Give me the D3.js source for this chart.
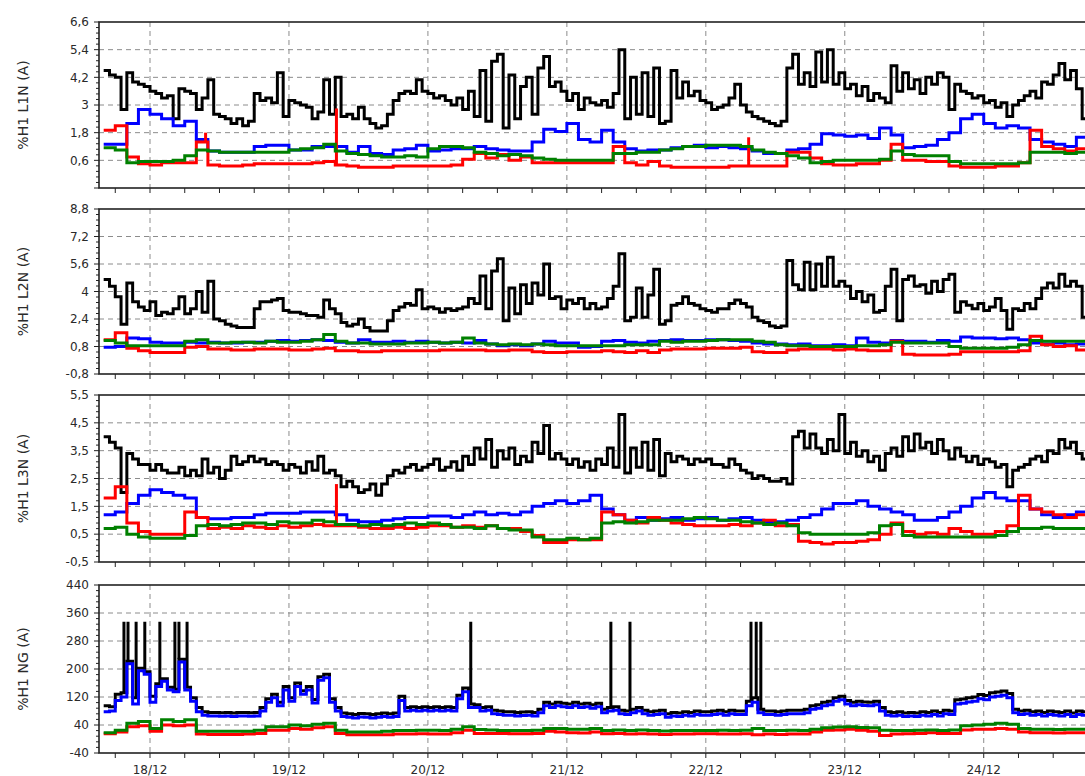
<!DOCTYPE html>
<html>
<head>
<meta charset="utf-8">
<script src="https://cdn.jsdelivr.net/npm/d3@7"></script>
<style>
  body { margin: 0; background: #fff; }
  svg { display: block; font-family: "DejaVu Sans", sans-serif; }
</style>
</head>
<body>
<svg id="chart" width="1085" height="776"></svg>
<script>
"use strict";

// hourly series start at 18/12 - 8h, step 1h ; others step 2h
const startHour = -8;

const p1Black = [4.5,4.3,4.2,2.8,4.4,4.0,3.9,3.8,
  3.6,3.5,3.3,3.4,2.4,3.7,3.6,3.5,2.8,3.3, 4.1,2.6,2.5,2.4,2.2,2.4,2.1,2.3,3.5,3.2,
  3.3,3.1,4.4,2.5,3.2,3.1,3.0,2.9,2.4,2.7, 4.1,2.6,4.2,2.5,2.6,2.4,2.9,2.4,2.2,2.0,
  2.1,2.6,3.2,3.5,3.6,3.5,4.1,3.6,3.5,3.3, 3.4,3.2,3.0,3.3,2.8,3.6,2.5,4.5,2.3,4.9,
  5.2,2.0,4.3,2.4,3.8,4.2,2.6,4.6,5.1,3.8, 4.0,3.6,3.2,3.5,2.8,3.3,3.1,
  3.0,3.2,2.9,3.5,5.4,2.4,4.2,2.6,4.4,2.5, 4.6,2.2,2.3,4.5,3.3,4.0,3.4,3.6,3.2,3.1,
  2.8,2.9,3.0,3.3,3.9,3.0,2.7,2.5,2.4,2.3, 2.2,2.1,2.3,4.6,5.2,3.9,4.4,3.8,5.3,4.0,
  5.4,3.9,4.4,3.7,3.9,3.4,3.8,3.2,3.5,3.3, 3.1,4.7,3.6,4.4,3.7,4.1,3.5,4.2,3.9,4.4,
  4.2,2.8,3.9,3.6,3.5,3.3,3.4,3.1,3.2,2.9, 3.1,2.5,3.0,3.2,3.4,3.6,3.3,4.0,3.9,4.3,
  4.8,4.1,4.5,3.7,2.4,2.4];
const p1Blue = [1.3,1.3,2.2,2.8,2.6,2.4,2.1,2.3,1.5,1.0,0.95,0.95,0.95,1.2,1.25,1.25,1.05,1.05,1.2,1.2,
  1.2,0.95,1.2,0.9,0.85,1.05,1.1,1.25,1.0,1.05,1.1,1.1,1.2,1.1,1.05,1.0,1.0,1.4,1.95,1.85,2.2,1.5,1.4,
  1.9,1.4,1.1,1.0,1.05,1.05,1.15,1.2,1.25,1.15,1.2,1.15,1.1,1.0,0.9,0.9,1.05,1.1,1.3,1.75,1.7,1.65,
  1.7,1.55,2.0,1.7,1.15,1.2,1.25,1.5,1.8,2.4,2.6,2.2,2.0,2.1,2.0,1.5,1.4,1.3,1.2,1.6,1.6];
const p1Red = [1.9,2.1,0.75,0.45,0.4,0.5,0.5,0.5,1.4,0.4,0.35,0.35,0.4,0.45,0.45,0.45,0.45,0.45,0.5,0.55,
  0.4,0.35,0.3,0.3,0.3,0.35,0.35,0.35,0.35,0.35,0.4,0.65,0.9,0.7,0.85,0.6,0.75,0.5,0.5,0.5,0.5,0.5,0.5,
  0.5,1.2,0.5,0.4,0.55,0.35,0.3,0.3,0.3,0.3,0.3,0.35,0.35,0.35,0.35,0.35,0.95,0.95,0.7,0.45,0.4,0.4,
  0.45,0.45,0.6,1.3,0.6,0.6,0.55,0.55,0.35,0.3,0.3,0.3,0.35,0.35,0.5,1.9,1.2,1.1,1.0,1.1,1.1];
const p1Green = [1.15,1.05,0.5,0.55,0.55,0.55,0.6,0.8,1.05,1.0,0.95,0.95,0.95,0.95,0.95,0.95,1.05,1.1,1.15,1.3,
  1.0,0.9,0.85,0.8,0.75,0.75,0.8,0.75,1.1,1.2,1.2,1.15,0.95,0.9,0.8,0.85,0.8,0.7,0.65,0.6,0.6,0.6,0.6,
  0.6,0.9,0.9,0.95,0.95,1.05,1.1,1.2,1.2,1.25,1.25,1.25,1.2,1.05,0.95,0.9,0.8,0.7,0.5,0.55,0.6,0.6,
  0.6,0.6,0.65,1.0,0.85,0.8,0.8,0.8,0.55,0.45,0.45,0.45,0.45,0.45,0.5,0.95,0.95,0.95,0.9,0.95,0.95];
const p1RedSpikeHours = [9.6, 32.2, 103.4];
const p1RedSpikePeak = [1.8, 2.85, 1.6];

const p2Black = [4.7,4.3,3.7,2.1,4.5,3.4,3.1,2.9,
  3.4,2.6,2.8,2.7,3.0,3.7,2.7,3.0,4.0,2.8, 4.6,2.4,2.3,2.1,2.0,1.9,1.9,1.9,3.0,3.4,
  3.4,3.5,3.6,2.9,2.8,2.8,2.7,2.6,2.6,2.5, 3.5,3.0,2.7,2.2,2.0,2.1,2.4,1.9,1.7,1.7,
  1.7,2.3,2.9,3.1,3.3,3.2,4.1,3.0,3.1,3.0, 2.8,3.0,2.9,3.0,3.1,3.6,3.3,4.9,3.0,5.2,
  5.9,2.3,4.2,2.7,4.4,3.3,4.5,3.8,5.6,3.6, 3.7,3.0,3.5,3.3,3.6,3.0,3.3,
  3.0,3.1,3.6,4.3,6.2,2.3,2.5,4.2,2.5,3.8, 5.3,2.1,2.3,3.2,3.3,3.7,3.3,3.2,3.0,2.9,
  2.8,3.0,3.0,3.3,3.5,3.3,3.1,2.5,2.3,2.2, 2.0,1.9,2.0,5.8,4.4,4.1,5.7,4.1,5.6,4.3,
  6.0,4.3,4.6,4.3,3.6,4.0,3.4,3.8,2.8,2.9, 4.3,5.3,2.3,4.7,4.9,4.3,4.4,3.9,4.6,4.0,
  4.7,5.0,2.8,3.4,3.2,3.0,3.3,2.9,3.1,3.6, 2.9,1.8,3.0,2.9,3.3,3.0,3.6,4.2,4.5,4.2,
  5.0,4.3,4.6,4.3,2.5,2.5];
const p2Blue = [0.75,0.8,1.3,1.25,1.05,1.0,1.0,1.05,1.0,1.05,1.0,1.0,1.05,1.05,1.1,1.15,1.1,1.15,1.2,1.15,
  1.05,1.0,1.2,1.05,1.05,1.1,1.05,1.1,1.05,1.0,1.05,1.0,1.15,0.95,0.85,0.9,0.85,0.95,1.1,1.0,1.0,0.75,0.8,
  1.1,1.15,1.05,1.0,1.1,1.15,1.2,1.15,1.15,1.2,1.2,1.15,1.1,1.0,0.95,0.95,0.9,0.95,0.85,0.85,0.9,0.85,
  1.3,1.05,1.0,1.15,1.1,1.1,1.05,1.15,1.1,1.35,1.3,1.3,1.25,1.3,1.2,1.0,0.95,1.0,0.9,0.95,0.95];
const p2Red = [1.2,1.6,0.7,0.55,0.45,0.45,0.45,0.75,0.8,0.65,0.65,0.6,0.6,0.65,0.65,0.65,0.6,0.6,0.65,0.7,
  0.55,0.55,0.5,0.5,0.55,0.55,0.55,0.55,0.55,0.6,0.6,0.6,0.6,0.55,0.55,0.6,0.6,0.5,0.45,0.45,0.5,0.5,0.5,
  0.55,0.5,0.45,0.55,0.45,0.6,0.65,0.65,0.65,0.7,0.7,0.7,0.75,0.5,0.45,0.45,0.6,0.65,0.65,0.65,0.6,0.65,
  0.6,0.55,0.55,1.1,0.35,0.3,0.3,0.3,0.35,0.5,0.5,0.5,0.5,0.5,0.55,1.4,0.9,0.8,0.85,0.6,0.6];
const p2Green = [1.15,1.0,0.85,0.85,0.85,0.85,0.85,1.1,1.2,1.0,1.0,1.05,1.05,1.0,1.1,1.05,1.05,1.1,1.2,1.5,
  1.1,1.0,1.0,0.95,0.95,0.95,1.0,1.0,1.05,1.0,1.05,1.3,1.0,0.95,0.9,0.95,0.9,0.95,0.9,0.85,0.85,0.85,0.85,
  0.85,0.85,0.9,0.9,0.9,1.1,1.05,1.1,1.1,1.15,1.2,1.2,1.2,1.1,1.05,0.9,0.85,0.85,0.8,0.8,0.8,0.8,
  0.85,0.85,0.9,1.05,1.0,1.0,1.0,1.0,0.8,0.7,0.7,0.7,0.7,0.75,0.9,1.15,1.1,1.1,1.1,1.1,1.1];

const p3Black = [4.0,3.8,3.6,2.0,3.4,3.2,3.0,3.0,
  2.8,3.0,2.8,2.7,2.7,2.9,2.6,2.8,2.6,3.2, 2.7,2.9,2.5,2.8,3.3,3.0,3.1,3.3,3.1,3.2,
  3.0,3.1,3.0,2.8,3.0,2.9,2.7,3.1,2.8,3.3, 2.7,2.8,2.6,2.2,2.4,2.2,2.0,2.1,2.3,1.9,
  2.3,2.6,2.8,2.7,2.9,3.0,2.8,2.9,3.0,3.2, 2.8,2.9,3.1,2.8,3.3,3.0,3.6,3.2,3.9,2.9,
  3.5,3.2,3.6,3.0,3.3,3.1,3.8,3.4,4.4,3.2, 3.4,3.2,3.0,3.2,2.9,3.1,2.8,
  3.2,3.0,3.6,2.9,4.8,2.7,3.6,2.9,3.8,2.8, 3.9,2.6,3.4,3.1,3.3,3.2,3.0,3.2,3.1,3.2,
  3.0,3.0,2.9,3.2,3.0,2.8,2.7,2.5,2.6,2.5, 2.4,2.4,2.5,2.3,4.0,4.2,3.6,4.1,3.6,3.4,
  3.9,3.5,4.8,3.4,3.8,3.3,3.5,3.1,3.3,2.8, 3.4,3.6,3.3,4.0,3.5,4.1,3.6,3.8,3.4,3.9,
  3.5,3.2,3.6,3.3,3.1,3.3,3.0,3.2,3.1,2.9, 3.0,2.2,2.8,2.9,3.0,3.2,3.3,3.1,3.5,3.4,
  3.9,3.6,3.8,3.4,3.2,3.2];
const p3Blue = [1.2,1.3,1.6,1.9,2.1,2.0,1.9,1.8,1.1,1.05,1.05,1.1,1.1,1.2,1.25,1.25,1.25,1.3,1.3,1.3,
  1.2,1.0,0.95,0.95,1.0,1.05,1.1,1.1,1.15,1.15,1.1,1.2,1.3,1.2,1.25,1.2,1.3,1.5,1.6,1.7,1.6,1.7,1.9,
  1.4,1.2,1.0,1.1,1.0,1.05,1.1,1.0,1.05,1.1,1.0,1.05,1.1,1.0,0.95,0.95,1.0,1.1,1.2,1.4,1.6,1.6,
  1.7,1.5,1.4,1.3,1.2,1.0,1.0,1.1,1.3,1.5,1.8,2.0,1.8,1.7,1.7,1.4,1.2,1.1,1.2,1.3,1.3];
const p3Red = [1.8,2.2,0.9,0.6,0.5,0.5,0.5,1.3,1.1,0.7,0.75,0.7,0.8,0.75,0.7,0.8,0.75,0.8,0.85,0.8,
  0.8,0.8,0.75,0.7,0.7,0.75,0.7,0.75,0.8,0.8,0.75,0.8,0.75,0.8,0.7,0.7,0.6,0.45,0.2,0.2,0.3,0.3,0.3,
  1.3,1.2,1.0,0.9,1.1,1.0,0.9,0.85,0.8,0.8,0.8,0.85,0.8,0.9,1.0,0.8,0.85,0.25,0.2,0.15,0.2,0.2,
  0.25,0.3,0.5,0.9,0.6,0.5,0.55,0.5,0.7,0.6,0.5,0.5,0.6,0.8,1.9,1.4,1.3,1.2,1.1,1.2,1.2];
const p3Green = [0.7,0.75,0.5,0.4,0.35,0.35,0.35,0.45,0.8,0.85,0.8,0.85,0.9,0.9,0.85,0.95,0.9,0.9,1.0,0.95,
  0.85,0.85,0.8,0.85,0.8,0.85,0.9,0.85,0.9,0.85,0.75,0.75,0.7,0.8,0.7,0.65,0.65,0.4,0.3,0.3,0.35,0.3,0.35,
  0.9,0.95,0.9,0.95,1.0,1.0,1.0,1.05,1.1,1.05,1.0,1.0,0.95,0.9,0.85,0.9,0.8,0.55,0.5,0.5,0.5,0.5,
  0.5,0.55,0.8,0.85,0.45,0.4,0.4,0.4,0.4,0.4,0.4,0.4,0.45,0.6,0.7,0.7,0.75,0.7,0.7,0.7,0.7];
const p3RedSpikeHours = [32.2];
const p3RedSpikePeak = [2.3];

const ngBlack = [95,92,128,132,222,118,202,192,122,158,172,148,142,228,148,118,90,
  78,76,76,75,76,74,76,76,75,76,
  90,115,128,105,150,118,160,138,150,113,178,185,115,90,
  74,72,70,73,72,70,72,74,72,74,
  122,90,92,90,92,90,92,90,92,90,
  125,146,100,98,90,92,82,80,78,78,76,77,78,76,
  85,105,100,105,102,100,105,100,102,98,102,
  85,90,92,82,80,85,90,82,78,80,82,
  72,76,74,78,76,80,78,78,80,82,78,82,80,80,
  108,118,85,80,80,78,80,82,82,82,85,
  95,98,105,108,118,122,110,105,108,106,105,108,90,
  78,76,78,74,76,74,78,76,80,76,82,80,
  112,114,118,120,127,124,132,134,137,130,
  85,80,82,78,80,76,80,78,76,80,74,80,78,78];
const ngBlue = [78,80,110,120,215,100,195,185,105,150,165,140,135,220,140,108,78,
  68,66,66,65,66,64,66,66,65,66,
  80,105,118,95,140,108,150,128,140,103,168,175,105,80,
  64,62,60,63,62,60,62,64,62,64,
  110,80,82,80,82,80,82,80,82,80,
  115,135,90,90,80,82,72,70,68,68,66,67,68,66,
  75,95,90,95,92,90,95,90,92,88,92,
  75,80,82,72,70,75,80,72,68,70,72,
  62,66,64,68,66,70,68,68,70,72,68,72,70,70,
  95,105,75,70,70,68,70,72,72,72,75,
  85,88,95,98,108,112,100,95,98,96,95,98,80,
  68,66,68,64,66,64,68,66,70,66,72,70,
  100,102,106,108,115,112,120,122,125,118,
  75,70,72,68,70,66,70,68,66,70,64,70,68,68];
const ngRed = [15,20,35,38,22,40,38,40,14,13,13,13,14,16,25,25,30,28,32,35,
  16,12,12,12,12,14,14,15,14,14,18,25,16,16,16,15,15,16,22,20,18,17,20,
  15,16,14,15,14,13,14,14,15,15,14,14,15,12,14,13,14,14,20,25,
  26,28,25,22,10,14,15,16,18,16,16,26,28,28,30,28,20,18,18,17,18,18,18];
const ngGreen = [18,25,45,50,30,55,50,55,22,22,22,22,22,25,35,35,40,38,42,45,
  25,20,20,20,22,24,24,25,25,24,28,35,27,26,24,24,24,25,30,30,28,28,30,
  24,26,24,26,24,23,24,24,24,24,25,24,25,30,24,24,25,24,28,32,
  34,35,33,32,25,24,24,25,26,24,26,38,40,42,45,42,30,28,28,27,28,28,28];
const ngSpikeHours = [-4.5, -3.8, -2.4, -0.9, 1.7, 4.3, 5.0, 6.4, 55.4, 79.6, 82.9, 103.8, 104.7, 105.5];
const ngSpikePeak = [335, 335, 335, 335, 335, 335, 335, 335, 335, 335, 335, 335, 335, 335];

const p1Ticks = [-0.6, 0.6, 1.8, 3, 4.2, 5.4, 6.6];
const p2Ticks = [-0.8, 0.8, 2.4, 4, 5.6, 7.2, 8.8];
const p3Ticks = [-0.5, 0.5, 1.5, 2.5, 3.5, 4.5, 5.5];
const p4Ticks = [-40, 40, 120, 200, 280, 360, 440];
const titles = ["%H1 L1N (A)", "%H1 L2N (A)", "%H1 L3N (A)", "%H1 NG (A)"];

const width = 1085;
const height = 776;
const left = 99;
const right = 1092;
const hr = 3600 * 1000;
const t0 = new Date(2019, 11, 18);
const colors = { black: "#000000", blue: "#0000ff", red: "#ff0000", green: "#008000" };

const svg = d3.select("#chart");

const x = d3.scaleTime()
  .domain([new Date(+t0 - 8.81 * hr), new Date(+t0 + 162.7 * hr)])
  .range([left, right]);

const toPoints = (vals, step) =>
  vals.map((v, i) => ({ t: new Date(+t0 + (startHour + i * step) * hr), v: v }));

// value of a stepped series at a given hour
const valueAt = (vals, step, h) =>
  vals[Math.max(0, Math.min(vals.length - 1, Math.floor((h - startHour) / step)))];

const panels = [
  { top: 22, bottom: 188, ticks: p1Ticks, hideMin: true,
    series: [[p1Black, 1, "black"], [p1Blue, 2, "blue"], [p1Red, 2, "red"], [p1Green, 2, "green"]],
    spikes: [{ before: 2, hours: p1RedSpikeHours, peaks: p1RedSpikePeak, base: p1Red, step: 2, color: "red" }] },
  { top: 209, bottom: 374, ticks: p2Ticks,
    series: [[p2Black, 1, "black"], [p2Blue, 2, "blue"], [p2Red, 2, "red"], [p2Green, 2, "green"]],
    spikes: [] },
  { top: 395, bottom: 562, ticks: p3Ticks,
    series: [[p3Black, 1, "black"], [p3Blue, 2, "blue"], [p3Red, 2, "red"], [p3Green, 2, "green"]],
    spikes: [{ before: 2, hours: p3RedSpikeHours, peaks: p3RedSpikePeak, base: p3Red, step: 2, color: "red" }] },
  { top: 585, bottom: 753, ticks: p4Ticks,
    series: [[ngBlack, 1, "black"], [ngBlue, 1, "blue"], [ngRed, 2, "red"], [ngGreen, 2, "green"]],
    spikes: [{ before: 1, hours: ngSpikeHours, peaks: ngSpikePeak, base: ngBlack, step: 1, color: "black" }] }
];

const fmt = d => String(+d.toFixed(2)).replace(".", ",");
const dayTicks = x.ticks(d3.timeDay.every(1));
const sixTicks = x.ticks(d3.timeHour.every(6));

panels.forEach((p, pi) => {
  const y = d3.scaleLinear()
    .domain([p.ticks[0], p.ticks[p.ticks.length - 1]])
    .range([p.bottom, p.top]);
  const g = svg.append("g").attr("class", "panel-" + pi);

  g.append("clipPath").attr("id", "clip" + pi)
    .append("rect")
    .attr("x", left).attr("y", p.top)
    .attr("width", right - left).attr("height", p.bottom - p.top);

  // grid
  g.selectAll(".hgrid")
    .data(p.ticks.slice(1, -1))
    .enter().append("line")
    .attr("x1", left).attr("x2", right)
    .attr("y1", d => y(d)).attr("y2", d => y(d))
    .attr("stroke", "#8c8c8c").attr("stroke-dasharray", "5,4");
  g.selectAll(".vgrid")
    .data(dayTicks)
    .enter().append("line")
    .attr("x1", d => x(d)).attr("x2", d => x(d))
    .attr("y1", p.top).attr("y2", p.bottom)
    .attr("stroke", "#8c8c8c").attr("stroke-dasharray", "5,4");

  const plot = g.append("g").attr("clip-path", "url(#clip" + pi + ")");
  const line = d3.line()
    .x(d => x(d.t)).y(d => y(d.v))
    .curve(d3.curveStepAfter);

  const drawSpikes = s => {
    plot.selectAll(null)
      .data(s.hours)
      .enter().append("line")
      .attr("x1", d => x(new Date(+t0 + d * hr)))
      .attr("x2", d => x(new Date(+t0 + d * hr)))
      .attr("y1", d => y(valueAt(s.base, s.step, d)))
      .attr("y2", (d, i) => y(s.peaks[i]))
      .attr("stroke", colors[s.color]).attr("stroke-width", 3);
  };

  p.series.forEach(([vals, step, c], si) => {
    p.spikes.filter(s => s.before === si).forEach(drawSpikes);
    plot.append("path")
      .datum(toPoints(vals, step))
      .attr("d", line)
      .attr("fill", "none")
      .attr("stroke", colors[c])
      .attr("stroke-width", 3)
      .attr("stroke-linejoin", "miter");
  });

  // frame
  g.append("rect")
    .attr("x", left).attr("y", p.top)
    .attr("width", right - left).attr("height", p.bottom - p.top)
    .attr("fill", "none").attr("stroke", "#222").attr("stroke-width", 1.6);

  // y ticks
  const minors = [];
  for (let i = 0; i < p.ticks.length - 1; i++) {
    for (let k = 1; k < 5; k++) minors.push(p.ticks[i] + (p.ticks[i + 1] - p.ticks[i]) * k / 5);
  }
  g.selectAll(".ymin").data(minors).enter().append("line")
    .attr("x1", left - 3).attr("x2", left)
    .attr("y1", d => y(d)).attr("y2", d => y(d))
    .attr("stroke", "#222");
  g.selectAll(".ymaj").data(p.ticks).enter().append("line")
    .attr("x1", left - 5).attr("x2", left)
    .attr("y1", d => y(d)).attr("y2", d => y(d))
    .attr("stroke", "#222");
  g.selectAll(".ylab").data(p.hideMin ? p.ticks.slice(1) : p.ticks).enter().append("text")
    .attr("x", left - 10).attr("y", d => y(d))
    .attr("dy", "0.36em")
    .attr("text-anchor", "end")
    .attr("font-size", 12)
    .attr("fill", "#2a2a2a")
    .text(fmt);

  // x ticks on the bottom edge
  g.selectAll(".xt").data(sixTicks).enter().append("line")
    .attr("x1", d => x(d)).attr("x2", d => x(d))
    .attr("y1", p.bottom).attr("y2", p.bottom + 5)
    .attr("stroke", "#222");

  g.append("text")
    .attr("transform", "translate(23," + (p.top + p.bottom) / 2 + ") rotate(-90)")
    .attr("text-anchor", "middle")
    .attr("dy", "0.36em")
    .attr("font-size", 14)
    .attr("fill", "#2a2a2a")
    .text(titles[pi]);
});

svg.selectAll(".xlab")
  .data(dayTicks)
  .enter().append("text")
  .attr("x", d => x(d))
  .attr("y", 774)
  .attr("text-anchor", "middle")
  .attr("font-size", 12)
  .attr("fill", "#2a2a2a")
  .text(d3.timeFormat("%d/%m"));
</script>
</body>
</html>
